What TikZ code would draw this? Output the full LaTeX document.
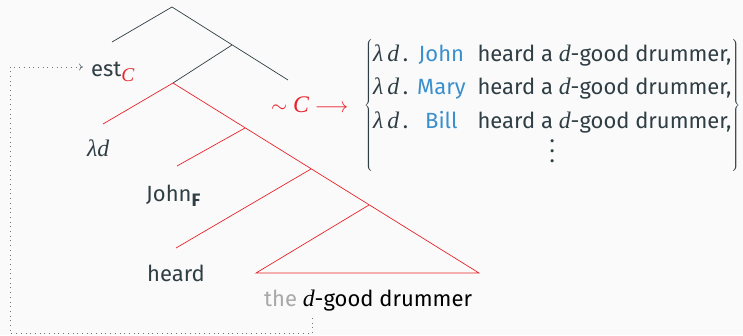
\documentclass[tikz,border=0pt]{standalone}
\usepackage{fontspec}
\setmainfont{Fira Sans}
\newfontfamily\varit{Liberation Serif}[Scale=1.08]
\usetikzlibrary{arrows.meta}
\definecolor{bg}{HTML}{FAFAFA}
\definecolor{ink}{HTML}{2F3E44}
\definecolor{focus}{HTML}{E8232B}
\definecolor{alt}{HTML}{3A8FCD}
\definecolor{faded}{HTML}{A8A8A8}
\newcommand{\var}[1]{{\varit\itshape #1}}
\newcommand{\lowsub}[1]{\raisebox{-5pt}{\fontsize{18}{20}\selectfont #1}}
\newcommand{\threedots}{\vbox{\baselineskip=10pt\hbox{.}\hbox{.}\hbox{.}}}
\tikzset{
	lbl/.style={anchor=base west, text=ink, inner sep=0pt, font=\fontsize{22}{26}\selectfont},
	branch/.style={draw=ink, line width=0.7pt},
	redbranch/.style={draw=focus, line width=0.7pt},
	trace/.style={draw=ink!70, line width=0.7pt, dash pattern=on 0.7pt off 4pt, -{To[length=4pt, width=7pt]}},
}
\begin{document}
\begin{tikzpicture}[x=1pt, y=-1pt]
		\useasboundingbox[fill=bg] (0, 0) rectangle (743, 335);
		
		% tree points
		\coordinate (root) at (172, 7);
		\coordinate (estend) at (112, 42);
		\coordinate (n1) at (232, 45);
		\coordinate (cend) at (288, 80);
		\coordinate (n2) at (173, 83);
		\coordinate (lamend) at (103, 124);
		\coordinate (n3) at (245, 128);
		\coordinate (johnend) at (177, 166);
		\coordinate (n4) at (311, 169);
		\coordinate (heardend) at (176, 248);
		\coordinate (n5) at (369, 205);
		\coordinate (tl) at (256, 273);
		\coordinate (tr) at (479, 273);
		
		\draw[branch] (estend)--(root)--(cend);
		\draw[branch] (n1)--(n2);
		\draw[redbranch] (lamend)--(n2)--(tr)--(tl)--(n5);
		\draw[redbranch] (n3)--(johnend);
		\draw[redbranch] (n4)--(heardend);
		
		% labels
		\node[lbl] (est) at (91, 76) {est\lowsub{\color{focus}\var{C}}};
		\node[lbl] (lam) at (87, 156) {\var{λd}};
		\node[lbl] (john) at (146, 201) {John\lowsub{\textbf{F}}};
		\node[lbl] (heard) at (147, 281) {heard};
		\node[lbl, text=black] (dp) at (264, 306) {\textcolor{faded}{the} \var{d}-good drummer};
		\node[lbl, text=focus] (alts) at (271, 112) {$\sim$ \var{C} $\longrightarrow$};
		\node[lbl, anchor=west] (set) at (364, 105) {\renewcommand\arraystretch{1.29}%
			$\left\{\begin{tabular}{@{}l@{\hspace{9pt}}c@{\hspace{12pt}}l@{}}
				\var{λ\,d}\,. & \textcolor{alt}{John} & heard a \var{d}-good drummer,\\
				\var{λ\,d}\,. & \textcolor{alt}{Mary} & heard a \var{d}-good drummer,\\
				\var{λ\,d}\,. & \textcolor{alt}{Bill} & heard a \var{d}-good drummer,\\
				\multicolumn{3}{c}{\threedots}
			\end{tabular}\right\}$};
		
		% trace back to est
		\coordinate (tracefoot) at (312, 318);
		\coordinate (tracecorner) at (10, 333);
		\coordinate (estin) at (83, 67);
		\draw[trace] (tracefoot)--(tracefoot |- tracecorner)--(tracecorner)|-(estin);
	\end{tikzpicture}
\end{document}
